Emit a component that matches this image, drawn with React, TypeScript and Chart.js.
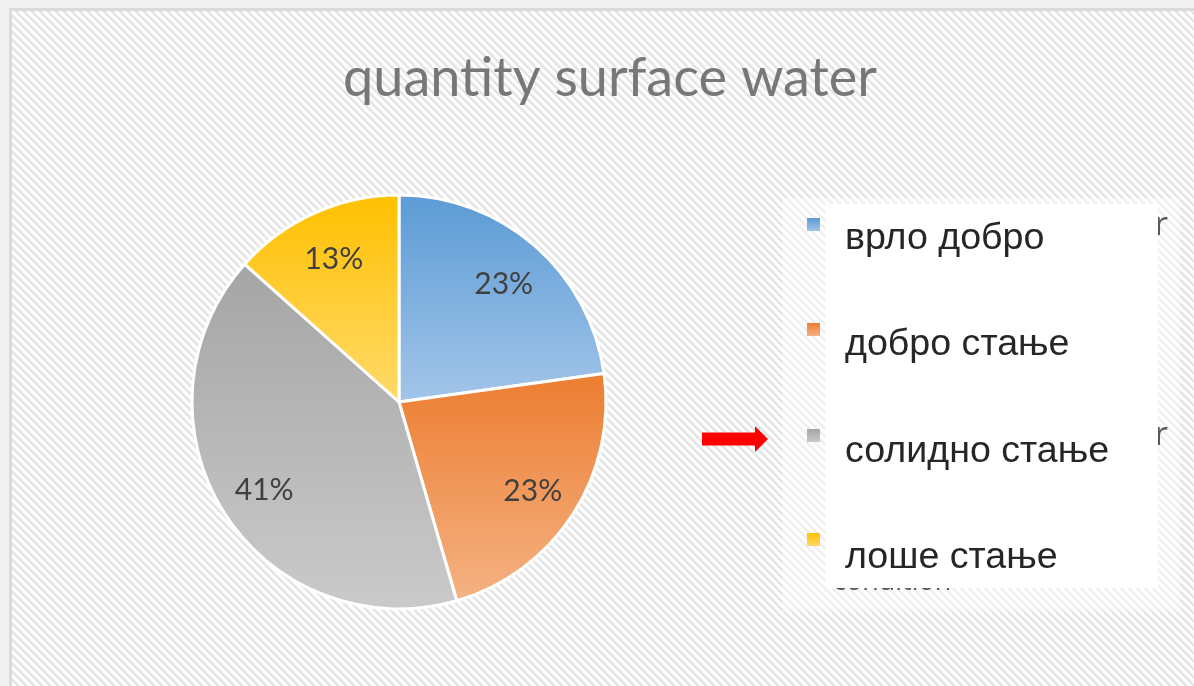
import React, { useEffect, useRef } from "react";
import { Chart, registerables } from "chart.js";

Chart.register(...registerables);

const chartTitle = "quantity surface water";
const categories = ["врло добро", "добро стање", "солидно стање", "лоше стање"];
const seriesValues = [22.8, 22.7, 41.1, 13.4];
const topColors = ["#5b9bd5", "#ed7d31", "#a5a5a5", "#ffc000"];
const bottomColors = ["#a3c5e9", "#f4b283", "#cacaca", "#ffda6b"];
const hiddenLegendTails = ["r", "", "r", "condition"];

const W = 1194;
const H = 686;
const RADIUS = 207;

function makeHatch(): CanvasPattern | string {
  const c = document.createElement("canvas");
  c.width = 8;
  c.height = 8;
  const g = c.getContext("2d");
  if (!g) return "#f4f4f4";
  const img = g.createImageData(8, 8);
  const shades = [255, 255, 251, 238, 227, 227, 238, 251];
  for (let y = 0; y < 8; y++) {
    for (let x = 0; x < 8; x++) {
      const d = (((x - y) % 8) + 8) % 8;
      const v = shades[d];
      const p = (y * 8 + x) * 4;
      img.data[p] = v;
      img.data[p + 1] = v;
      img.data[p + 2] = v;
      img.data[p + 3] = 255;
    }
  }
  g.putImageData(img, 0, 0);
  const pat = g.createPattern(c, "repeat");
  return pat || "#f4f4f4";
}

function sliceAngles(i: number) {
  const total = seriesValues.reduce((a, b) => a + b, 0);
  let cum = 0;
  for (let k = 0; k < i; k++) cum += seriesValues[k];
  const a0 = -Math.PI / 2 + (2 * Math.PI * cum) / total;
  const a1 = a0 + (2 * Math.PI * seriesValues[i]) / total;
  return [a0, a1];
}

function sliceGradient(ctx: any) {
  const chart = ctx.chart;
  const area = chart.chartArea;
  const i = ctx.dataIndex;
  if (!area || i === undefined) return topColors[i || 0];
  const [a0, a1] = sliceAngles(i);
  const cy = (area.top + area.bottom) / 2;
  const ys = [cy, cy + RADIUS * Math.sin(a0), cy + RADIUS * Math.sin(a1)];
  for (const q of [-Math.PI / 2, Math.PI / 2, (3 * Math.PI) / 2]) {
    if (q > a0 && q < a1) ys.push(cy + RADIUS * Math.sin(q));
  }
  const g = chart.ctx.createLinearGradient(0, Math.min(...ys), 0, Math.max(...ys));
  g.addColorStop(0, topColors[i]);
  g.addColorStop(1, bottomColors[i]);
  return g;
}

const backgroundPlugin = {
  id: "excelBackground",
  beforeDraw(chart: any) {
    const ctx = chart.ctx as CanvasRenderingContext2D;
    ctx.save();
    ctx.fillStyle = "#f1f1f1";
    ctx.fillRect(0, 0, W, H);
    ctx.fillStyle = "#dbdbdb";
    ctx.fillRect(9, 8, W - 9, H - 8);
    ctx.fillStyle = makeHatch() as any;
    ctx.fillRect(12, 11, W - 12, H - 11);

    // lighter legend area
    ctx.fillStyle = "rgba(255,255,255,0.4)";
    ctx.fillRect(783, 198, 397, 414);

    // title
    ctx.fillStyle = "#777777";
    ctx.textAlign = "center";
    ctx.textBaseline = "alphabetic";
    ctx.font = "48px Lato";
    const tw = ctx.measureText(chartTitle).width;
    const fs = (48 * 534) / tw;
    ctx.font = `${fs.toFixed(2)}px Lato`;
    ctx.fillText(chartTitle, 610, 96);

    // arrow
    ctx.fillStyle = "#ff0000";
    ctx.beginPath();
    ctx.moveTo(702, 432.5);
    ctx.lineTo(755, 432.5);
    ctx.lineTo(755, 426);
    ctx.lineTo(768, 439);
    ctx.lineTo(755, 452);
    ctx.lineTo(755, 445.5);
    ctx.lineTo(702, 445.5);
    ctx.closePath();
    ctx.fill();

    // hidden original legend text peeking out
    ctx.fillStyle = "#595959";
    ctx.textAlign = "right";
    ctx.font = "33px 'Open Sans'";
    ctx.fillText(hiddenLegendTails[0], 1168, 235);
    ctx.fillText(hiddenLegendTails[2], 1168, 445);
    ctx.textAlign = "left";
    ctx.font = "27px 'Open Sans'";
    ctx.fillText(hiddenLegendTails[3], 833, 590);

    // legend markers
    const markerTops = [218, 323, 429, 533];
    categories.forEach((_, i) => {
      const y = markerTops[i];
      const g = ctx.createLinearGradient(0, y, 0, y + 13);
      g.addColorStop(0, topColors[i]);
      g.addColorStop(1, bottomColors[i]);
      ctx.fillStyle = g;
      ctx.fillRect(807, y, 13, 13);
    });

    // white box
    ctx.fillStyle = "#ffffff";
    ctx.fillRect(825, 204, 333, 384);

    // legend labels
    const baselines = [249, 355, 462, 568];
    ctx.fillStyle = "#262626";
    ctx.textAlign = "left";
    ctx.font = "37.6px 'Liberation Sans'";
    categories.forEach((label, i) => {
      ctx.fillText(label, 845, baselines[i]);
    });
    ctx.restore();
  },
  afterDatasetsDraw(chart: any) {
    const ctx = chart.ctx as CanvasRenderingContext2D;
    const meta = chart.getDatasetMeta(0);
    const total = seriesValues.reduce((a, b) => a + b, 0);
    ctx.save();
    ctx.fillStyle = "#404040";
    ctx.font = "30px Lato";
    ctx.textAlign = "center";
    ctx.textBaseline = "middle";
    meta.data.forEach((el: any, i: number) => {
      const p = el.getProps(["x", "y", "startAngle", "endAngle", "outerRadius"], true);
      const mid = (p.startAngle + p.endAngle) / 2;
      const r = p.outerRadius * 0.77;
      const txt = Math.round((seriesValues[i] / total) * 100) + "%";
      ctx.fillText(txt, p.x + Math.cos(mid) * r, p.y + Math.sin(mid) * r + 3);
    });
    ctx.restore();
  },
};

export default function App() {
  const ref = useRef<HTMLCanvasElement | null>(null);
  useEffect(() => {
    if (!ref.current) return;
    const chart = new Chart(ref.current, {
      type: "pie",
      data: {
        labels: categories,
        datasets: [
          {
            data: seriesValues,
            backgroundColor: sliceGradient as any,
            borderColor: "#ffffff",
            borderWidth: 3,
          },
        ],
      },
      options: {
        responsive: false,
        animation: false,
        radius: RADIUS,
        layout: { padding: { left: 0, right: 396, top: 118, bottom: 0 } },
        plugins: {
          legend: { display: false },
          title: { display: false },
          tooltip: { enabled: false },
        },
      } as any,
      plugins: [backgroundPlugin],
    });
    return () => chart.destroy();
  }, []);
  return (
    <div style={{ position: "fixed", left: 0, top: 0, width: W, height: H }}>
      <canvas ref={ref} width={W} height={H} style={{ width: W, height: H, display: "block" }} />
    </div>
  );
}
